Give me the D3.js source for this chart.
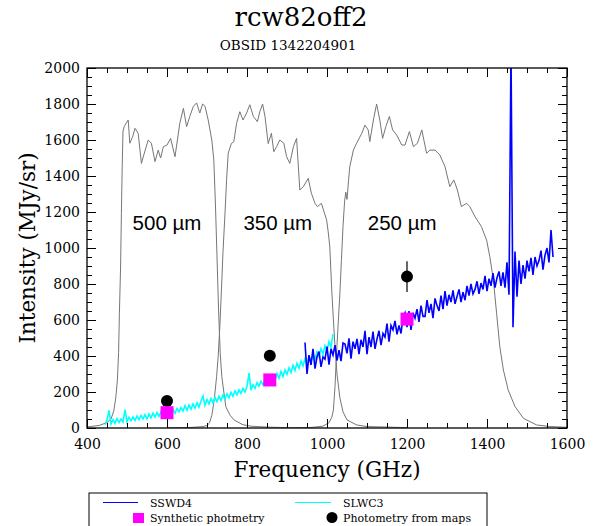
<!DOCTYPE html>
<html>
<head>
<meta charset="utf-8">
<script src="https://cdn.jsdelivr.net/npm/d3@7"></script>
<style>
body { margin: 0; background: #fff; }
text { font-family: "DejaVu Serif", serif; }
</style>
</head>
<body>
<script>
// filter transmission curves, [GHz, scaled value]
var band500 = [[400,6],[430,14],[450,30],[460,50],[467,95],[472,170],[476,267],[479,420],[481,637],[484,900],[486,1193],[488,1450],[490,1650],[493,1674],[495,1683],[503,1711],[507,1582],[514,1618],[520,1665],[528,1637],[536,1470],[542,1517],[553,1600],[561,1582],[570,1480],[578,1544],[584,1500],[591,1563],[600,1572],[609,1609],[620,1507],[632,1693],[641,1776],[649,1674],[657,1731],[666,1787],[674,1806],[682,1750],[689,1800],[695,1787],[703,1711],[712,1600],[717,1489],[721,1250],[725,950],[729,650],[733,420],[737,285],[747,118],[758,70],[768,44],[790,18],[810,10],[850,5],[900,2]];
var band350 = [[600,1],[660,3],[690,8],[700,14],[706,27],[712,70],[718,155],[724,285],[728,400],[732,560],[736,760],[740,980],[745,1193],[749,1380],[753,1526],[761,1581],[767,1590],[774,1693],[782,1757],[790,1711],[799,1750],[807,1796],[816,1730],[826,1702],[832,1757],[839,1800],[845,1730],[853,1580],[861,1637],[867,1535],[874,1563],[882,1600],[892,1582],[899,1508],[907,1470],[916,1563],[924,1609],[932,1322],[941,1341],[953,1387],[961,1304],[970,1248],[976,1230],[986,1248],[999,1156],[1003,1090],[1007,1007],[1012,760],[1016,600],[1020,452],[1025,300],[1032,170],[1040,90],[1050,45],[1074,17],[1100,8],[1200,2]];
var band250 = [[900,1],[960,3],[990,10],[1005,30],[1012,60],[1016,100],[1020,230],[1024,420],[1028,580],[1032,740],[1036,930],[1040,1120],[1044,1260],[1047,1310],[1050,1270],[1054,1380],[1057,1452],[1066,1544],[1074,1582],[1087,1637],[1095,1683],[1103,1656],[1107,1591],[1116,1711],[1124,1800],[1132,1711],[1139,1609],[1147,1674],[1156,1731],[1164,1656],[1174,1628],[1187,1572],[1195,1572],[1206,1647],[1216,1563],[1226,1582],[1237,1656],[1249,1526],[1257,1544],[1270,1544],[1282,1517],[1295,1452],[1307,1341],[1317,1378],[1326,1322],[1336,1230],[1349,1248],[1357,1230],[1370,1174],[1386,1119],[1399,1044],[1407,952],[1416,822],[1424,637],[1432,452],[1441,322],[1453,211],[1470,119],[1491,54],[1524,17],[1557,8],[1600,4]];
var bandLabels = ["500 µm", "350 µm", "250 µm"];
var bandLabelFreq = [514, 791, 1102];

// SLWC3 spectrum, 445 GHz onwards every 5 GHz
var slwStart = 445, slwStep = 5;
var slwFlux = [
  18,44,98,22,46,26,52,30,50,34,
  102,34,60,40,62,42,66,46,70,50,
  74,50,78,56,82,60,86,64,90,70,
  96,72,100,78,104,82,108,90,114,94,
  124,98,128,104,134,110,140,116,150,178,
  126,158,134,164,140,170,146,176,152,184,
  160,190,168,198,176,206,184,212,192,220,
  200,230,305,210,240,220,252,232,260,240,
  270,248,282,256,292,266,302,276,314,286,
  322,298,334,308,348,320,360,332,372,344,
  384,356,396,368,410,382,424,396,440,410,
  458,430,480,450,522];

// SSWD4 spectrum, 945 GHz onwards every 5 GHz
var sswStart = 945, sswStep = 5;
var sswFlux = [
  475,300,405,350,440,330,395,425,340,395,
  382,452,352,440,405,460,375,433,372,472,
  466,415,498,385,480,440,495,410,490,450,
  540,410,505,450,535,440,495,540,460,525,
  505,580,480,570,545,595,520,570,525,615,
  640,560,650,545,640,610,660,590,680,620,
  620,710,640,690,610,720,680,650,735,660,
  760,680,740,700,765,690,730,770,700,755,
  710,790,735,800,745,770,815,745,805,770,
  845,760,830,790,860,780,835,870,790,865,
  780,920,740,2100,560,980,730,930,800,905,
  830,930,870,945,850,950,900,930,985,880,
  960,1000,920,1100,950];

// photometry
var photFreq = [600, 857, 1200];
var synthFlux = [85, 267, 605];
var mapFlux = [150, 402, 841];
var mapErr = [8, 22, 85];

// set the dimensions and margins of the graph
var margin = {top: 68, right: 37, bottom: 98, left: 87},
    width = 604 - margin.left - margin.right,
    height = 526 - margin.top - margin.bottom;

var x = d3.scaleLinear().domain([400, 1600]).range([0, width]);
var y = d3.scaleLinear().domain([0, 2000]).range([height, 0]);

var svg = d3.select("body").append("svg")
    .attr("width", 604)
    .attr("height", 526);

var g = svg.append("g")
    .attr("transform", "translate(" + margin.left + "," + margin.top + ")");

g.append("clipPath").attr("id", "clip")
  .append("rect").attr("width", width).attr("height", height);

var plot = g.append("g").attr("clip-path", "url(#clip)");

var bandLine = d3.line()
    .x(function(d) { return x(d[0]); })
    .y(function(d) { return y(d[1]); });

[band500, band350, band250].forEach(function(b) {
  plot.append("path")
      .datum(b)
      .attr("fill", "none")
      .attr("stroke", "#767676")
      .attr("stroke-width", 1)
      .attr("d", bandLine);
});

var specLine = d3.line()
    .x(function(d) { return x(d.f); })
    .y(function(d) { return y(d.v); });

var slw = slwFlux.map(function(v, i) { return {f: slwStart + i * slwStep, v: v}; });
var ssw = sswFlux.map(function(v, i) { return {f: sswStart + i * sswStep, v: v}; });

plot.append("path").datum(slw)
    .attr("fill", "none").attr("stroke", "#00ffff").attr("stroke-width", 1.6)
    .attr("d", specLine);
plot.append("path").datum(ssw)
    .attr("fill", "none").attr("stroke", "#0000ff").attr("stroke-width", 1.6)
    .attr("d", specLine);

// photometry from maps, with error bars
var phot = photFreq.map(function(f, i) {
  return {f: f, s: synthFlux[i], m: mapFlux[i], e: mapErr[i]};
});

plot.selectAll(".err").data(phot).enter().append("line")
    .attr("x1", function(d) { return x(d.f); })
    .attr("x2", function(d) { return x(d.f); })
    .attr("y1", function(d) { return y(d.m - d.e); })
    .attr("y2", function(d) { return y(d.m + d.e); })
    .attr("stroke", "#000").attr("stroke-width", 1.2);

plot.selectAll(".map").data(phot).enter().append("circle")
    .attr("cx", function(d) { return x(d.f); })
    .attr("cy", function(d) { return y(d.m); })
    .attr("r", 6)
    .attr("fill", "#000");

plot.selectAll(".syn").data(phot).enter().append("rect")
    .attr("x", function(d) { return x(d.f) - 6.5; })
    .attr("y", function(d) { return y(d.s) - 6.5; })
    .attr("width", 13).attr("height", 13)
    .attr("fill", "#ff00ff");

// band names
g.selectAll(".bl").data(bandLabels).enter().append("text")
    .attr("x", function(d, i) { return x(bandLabelFreq[i]); })
    .attr("y", y(1100))
    .style("font-family", "'Liberation Sans', Arial, sans-serif")
    .style("font-size", "20.5px")
    .text(function(d) { return d; });

// axes: ticks inside on all four sides
var xMajor = d3.range(400, 1601, 200), xMinor = d3.range(400, 1601, 50);
var yMajor = d3.range(0, 2001, 200), yMinor = d3.range(0, 2001, 50);

function styleAxis(sel) {
  sel.select(".domain").remove();
  sel.selectAll("line").attr("stroke", "#000");
  sel.selectAll("text").style("font-family", "'DejaVu Serif', serif").style("font-size", "14px").attr("fill", "#000");
}

g.append("g").attr("transform", "translate(0," + height + ")")
    .call(d3.axisBottom(x).tickValues(xMinor).tickSizeInner(-5).tickSizeOuter(0).tickFormat(""))
    .call(styleAxis);
g.append("g").attr("transform", "translate(0," + height + ")")
    .call(d3.axisBottom(x).tickValues(xMajor).tickSizeInner(-9).tickSizeOuter(0).tickPadding(11).tickFormat(d3.format("d")))
    .call(styleAxis);
g.append("g")
    .call(d3.axisTop(x).tickValues(xMinor).tickSizeInner(-5).tickSizeOuter(0).tickFormat(""))
    .call(styleAxis);
g.append("g")
    .call(d3.axisTop(x).tickValues(xMajor).tickSizeInner(-9).tickSizeOuter(0).tickFormat(""))
    .call(styleAxis);

g.append("g")
    .call(d3.axisLeft(y).tickValues(yMinor).tickSizeInner(-5).tickSizeOuter(0).tickFormat(""))
    .call(styleAxis);
g.append("g")
    .call(d3.axisLeft(y).tickValues(yMajor).tickSizeInner(-9).tickSizeOuter(0).tickPadding(7).tickFormat(d3.format("d")))
    .call(styleAxis);
g.append("g").attr("transform", "translate(" + width + ",0)")
    .call(d3.axisRight(y).tickValues(yMinor).tickSizeInner(-5).tickSizeOuter(0).tickFormat(""))
    .call(styleAxis);
g.append("g").attr("transform", "translate(" + width + ",0)")
    .call(d3.axisRight(y).tickValues(yMajor).tickSizeInner(-9).tickSizeOuter(0).tickFormat(""))
    .call(styleAxis);

g.append("rect")
    .attr("width", width).attr("height", height)
    .attr("fill", "none").attr("stroke", "#000").attr("stroke-width", 1.3);

// axis titles
g.append("text")
    .attr("x", width / 2).attr("y", 477 - margin.top)
    .attr("text-anchor", "middle")
    .style("font-size", "21.5px")
    .text("Frequency (GHz)");

g.append("text")
    .attr("transform", "translate(" + (35 - margin.left) + "," + (height / 2) + ") rotate(-90)")
    .attr("text-anchor", "middle")
    .style("font-size", "21.5px")
    .text("Intensity (MJy/sr)");

// titles
svg.append("text").attr("x", 301).attr("y", 26)
    .attr("text-anchor", "middle").style("font-size", "26px")
    .text("rcw82off2");
svg.append("text").attr("x", 288).attr("y", 50)
    .attr("text-anchor", "middle").style("font-size", "13.5px")
    .text("OBSID 1342204901");

// legend
var leg = svg.append("g");
leg.append("rect")
    .attr("x", 89).attr("y", 493).attr("width", 398).attr("height", 60)
    .attr("fill", "none").attr("stroke", "#000").attr("stroke-width", 1);
leg.append("line").attr("x1", 103).attr("x2", 138).attr("y1", 502.5).attr("y2", 502.5)
    .attr("stroke", "#0000ff").attr("stroke-width", 1.2);
leg.append("line").attr("x1", 295).attr("x2", 331).attr("y1", 502.5).attr("y2", 502.5)
    .attr("stroke", "#00ffff").attr("stroke-width", 1.2);
leg.append("rect").attr("x", 133).attr("y", 513).attr("width", 11).attr("height", 10)
    .attr("fill", "#ff00ff");
leg.append("circle").attr("cx", 332).attr("cy", 517.5).attr("r", 5.5).attr("fill", "#000");
var legText = [["SSWD4", 150, 507], ["SLWC3", 343, 507], ["Synthetic photmetry", 150, 522], ["Photometry from maps", 343, 522]];
leg.selectAll(".lt").data(legText).enter().append("text")
    .attr("x", function(d) { return d[1]; })
    .attr("y", function(d) { return d[2]; })
    .style("font-size", "11px")
    .text(function(d) { return d[0]; });
</script>
</body>
</html>
